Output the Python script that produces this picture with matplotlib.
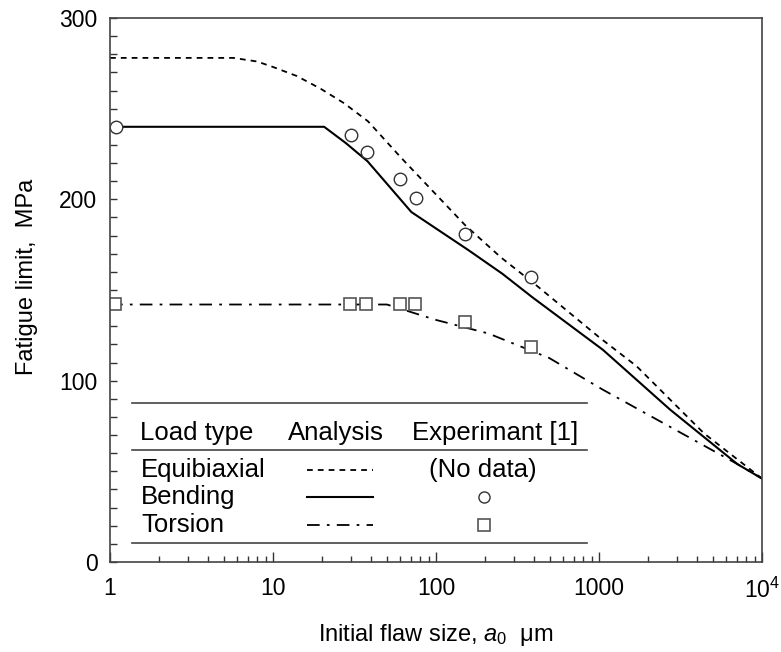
import matplotlib
matplotlib.use("Agg")
import matplotlib.pyplot as plt
from matplotlib.ticker import FixedLocator, FixedFormatter, MultipleLocator, LogLocator, NullFormatter

plt.rcParams['font.family'] = ['Liberation Sans', 'DejaVu Sans']
plt.rcParams['mathtext.fontset'] = 'custom'
plt.rcParams['mathtext.rm'] = 'Liberation Sans'
plt.rcParams['mathtext.it'] = 'Liberation Sans:italic'

# analysis curves
equi_x = [1, 5.7, 8, 10, 14, 19.6, 27.3, 38.3, 61, 90, 150, 250, 420, 1000, 1700, 4400, 10000]
equi_y = [278, 278, 276, 273, 268, 261, 253, 243, 223, 207, 186, 168, 152, 124, 108, 71, 46]

bend_x = [1, 20.6, 28, 38, 70.6, 158, 255, 390, 1057, 2733, 7060, 10000]
bend_y = [240, 240, 231, 221, 193, 172, 159, 146, 117, 84, 54, 46]

tors_x = [1, 50, 100, 210, 495, 1057, 2733, 7060, 10000]
tors_y = [142, 142, 133.5, 126, 112.5, 95, 74.5, 54, 46]

# experiment [1]
bend_exp_x = [1.09, 30, 37.6, 60.4, 75.9, 150, 381]
bend_exp_y = [240, 235.5, 226, 211, 201, 181, 157]

tors_exp_x = [1.08, 29.8, 37.2, 59.8, 74.8, 151, 381]
tors_exp_y = [142.5, 142.5, 142.5, 142.5, 142.5, 132.5, 118.8]

xticks = [1, 10, 100, 1000, 10000]
xlabels = ['1', '10', '100', '1000', r'$\mathregular{10^4}$']
yticks = [0, 100, 200, 300]

dash = (0, (3.2, 2.8))
dashdot = (0, (7, 4, 1.5, 4))

fig = plt.figure(figsize=(7.81, 6.52), dpi=100)
ax = fig.add_axes([110/781, 90/652, 652/781, 544/652])

ax.plot(equi_x, equi_y, color='black', lw=1.3, linestyle=dash)
ax.plot(bend_x, bend_y, color='black', lw=1.5)
ax.plot(tors_x, tors_y, color='black', lw=1.3, linestyle=dashdot)
ax.plot(bend_exp_x, bend_exp_y, 'o', ms=9, mfc='white', mec='#333333', mew=1.0)
ax.plot(tors_exp_x, tors_exp_y, 's', ms=8.5, mfc='white', mec='#555555', mew=1.2)

ax.set_xscale('log')
ax.set_xlim(1, 10000)
ax.set_ylim(0, 300)
ax.xaxis.set_major_locator(FixedLocator(xticks))
ax.xaxis.set_major_formatter(FixedFormatter(xlabels))
ax.xaxis.set_minor_locator(LogLocator(base=10, subs=range(2, 10)))
ax.xaxis.set_minor_formatter(NullFormatter())
ax.yaxis.set_major_locator(FixedLocator(yticks))
ax.yaxis.set_minor_locator(MultipleLocator(10))

ax.tick_params(which='both', direction='in', top=False, right=False,
               labelsize=16.5, width=1.0, color='#333333')
ax.tick_params(axis='y', which='both', length=5, pad=9)
ax.tick_params(axis='x', which='major', length=7, pad=11)
ax.tick_params(axis='x', which='minor', length=4)
for s in ax.spines.values():
    s.set_color('#444444')
    s.set_linewidth(1.2)

ax.set_ylabel('Fatigue limit,  MPa', fontsize=17)
ax.yaxis.set_label_coords(-0.11, 0.524)
ax.set_xlabel(r'Initial flaw size, $a_0$  μm', fontsize=17, labelpad=14)

# table-style legend
T = ax.transAxes
for yy in [0.292, 0.206, 0.035]:
    ax.plot([0.034, 0.732], [yy, yy], color='#444444', lw=1.2, transform=T)
fs = 18.5
ax.text(0.046, 0.237, 'Load type', fontsize=fs, transform=T, va='center')
ax.text(0.273, 0.237, 'Analysis', fontsize=fs, transform=T, va='center')
ax.text(0.463, 0.237, 'Experimant [1]', fontsize=fs, transform=T, va='center')
rows = ['Equibiaxial', 'Bending', 'Torsion']
row_y = [0.169, 0.119, 0.068]
for name, yy in zip(rows, row_y):
    ax.text(0.048, yy, name, fontsize=fs, transform=T, va='center')
ax.plot([0.302, 0.403], [row_y[0]] * 2, color='black', lw=1.3, linestyle=dash, transform=T)
ax.plot([0.302, 0.403], [row_y[1]] * 2, color='black', lw=1.5, transform=T)
ax.plot([0.302, 0.403], [row_y[2]] * 2, color='black', lw=1.3, linestyle=dashdot, transform=T)
ax.text(0.572, row_y[0], '(No data)', fontsize=fs, transform=T, va='center', ha='center')
ax.plot([0.574], [row_y[1]], 'o', ms=8, mfc='white', mec='#333333', mew=1.0, transform=T)
ax.plot([0.574], [row_y[2]], 's', ms=8, mfc='white', mec='#555555', mew=1.2, transform=T)

fig.savefig('out.png', dpi=100)
